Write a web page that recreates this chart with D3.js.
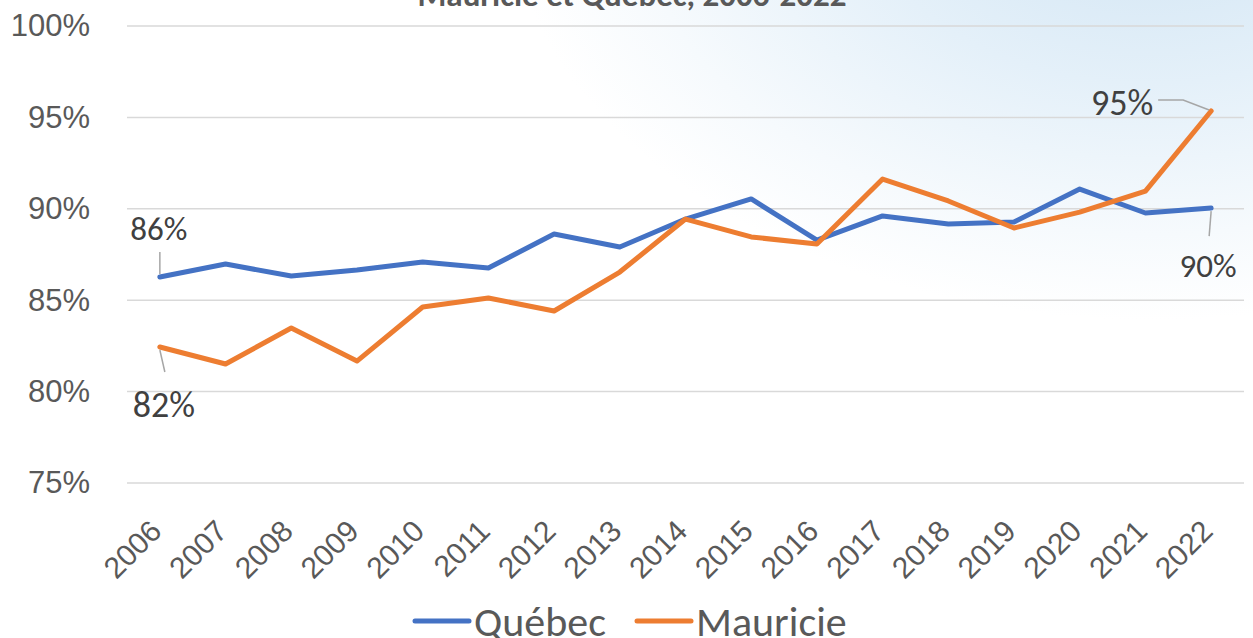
<!DOCTYPE html>
<html>
<head>
<meta charset="utf-8">
<style>
    body { margin: 0; background: #fff; }
    svg { display: block; font-family: Carlito, Calibri, Lato, sans-serif; }
    .grid line { stroke: #d9d9d9; stroke-width: 1.5px; }
    .axis text { fill: #595959; }
    .serie { fill: none; stroke-width: 5px; stroke-linejoin: round; stroke-linecap: round; }
    .leader { fill: none; stroke: #a6a6a6; stroke-width: 1.5px; }
    .lbl { fill: #404040; }
</style>
</head>
<body>
<svg></svg>
<script src="https://d3js.org/d3.v7.min.js"></script>
<script>
    var vWidth = 1253;
    var vHeight = 638;

    var annees = ['2006', '2007', '2008', '2009', '2010', '2011', '2012', '2013', '2014',
                  '2015', '2016', '2017', '2018', '2019', '2020', '2021', '2022'];
    var quebec = [0.8627, 0.8698, 0.8632, 0.8665, 0.8709, 0.8676, 0.8862, 0.8791, 0.8944,
                  0.9054, 0.8829, 0.8961, 0.8917, 0.8928, 0.9108, 0.8977, 0.9004];
    var mauricie = [0.8244, 0.8151, 0.8348, 0.8167, 0.8463, 0.8512, 0.8441, 0.8654, 0.8944,
                    0.8846, 0.8807, 0.9163, 0.9043, 0.8895, 0.8982, 0.9097, 0.9535];
    var yTicks = [0.75, 0.80, 0.85, 0.90, 0.95, 1.00];
    var titre = 'Mauricie et Québec, 2006-2022';

    var series = [
        {nom: 'Québec', valeurs: quebec, couleur: '#4472C4'},
        {nom: 'Mauricie', valeurs: mauricie, couleur: '#ED7D31'}
    ];

    var svg = d3.select('svg').attr('width', vWidth).attr('height', vHeight);

    // fond avec léger dégradé bleu en haut à droite
    var defs = svg.append('defs');
    var grad = defs.append('radialGradient').attr('id', 'fond')
        .attr('gradientUnits', 'userSpaceOnUse')
        .attr('cx', 1150).attr('cy', -110).attr('r', 430)
        .attr('gradientTransform', 'translate(1150,-110) scale(1.5,1) translate(-1150,110)');
    grad.append('stop').attr('offset', 0).attr('stop-color', '#d0e4f3');
    grad.append('stop').attr('offset', 0.45).attr('stop-color', '#e4f0f9');
    grad.append('stop').attr('offset', 0.8).attr('stop-color', '#f6fafd');
    grad.append('stop').attr('offset', 1).attr('stop-color', '#ffffff');
    svg.append('rect').attr('width', vWidth).attr('height', vHeight).attr('fill', 'url(#fond)');

    var x = d3.scalePoint().domain(annees).range([127, 1244]).padding(0.5);
    var y = d3.scaleLinear().domain([0.75, 1.0]).range([483, 26]);

    // titre (coupé en haut)
    svg.append('text').attr('x', 632).attr('y', 6)
        .attr('text-anchor', 'middle').attr('font-weight', 'bold')
        .attr('font-size', 33).attr('fill', '#595959').text(titre);

    // grille
    svg.append('g').attr('class', 'grid')
        .selectAll('line').data(yTicks).enter().append('line')
        .attr('x1', 127).attr('x2', 1244)
        .attr('y1', function (d) { return y(d); })
        .attr('y2', function (d) { return y(d); });

    // axe Y
    var axeY = svg.append('g').attr('class', 'axis')
        .attr('transform', 'translate(127,0)')
        .call(d3.axisLeft(y).tickValues(yTicks).tickFormat(d3.format('.0%'))
            .tickSize(0).tickPadding(37));
    axeY.select('.domain').remove();
    axeY.selectAll('text').attr('font-size', 31).attr('font-family', null);

    // axe X
    var axeX = svg.append('g').attr('class', 'axis')
        .attr('transform', 'translate(0,483)')
        .call(d3.axisBottom(x).tickSize(0));
    axeX.select('.domain').remove();
    axeX.selectAll('text')
        .attr('font-size', 30).attr('font-family', null)
        .attr('y', 0).attr('dy', 0)
        .attr('text-anchor', 'end')
        .attr('transform', 'translate(3,50) rotate(-45)');

    // courbes
    var ligne = d3.line()
        .x(function (d, i) { return x(annees[i]); })
        .y(function (d) { return y(d); });

    svg.selectAll('.serie').data(series).enter().append('path')
        .attr('class', 'serie')
        .attr('stroke', function (d) { return d.couleur; })
        .attr('d', function (d) { return ligne(d.valeurs); });

    // étiquettes de données (premier et dernier point)
    var fmt = d3.format('.0%');
    var etiquettes = [
        {v: quebec, i: 0, dx: -1, dy: -37, size: 33, anchor: 'middle', lead: [[0, -3], [0, -25]]},
        {v: mauricie, i: 0, dx: 4, dy: 70, size: 36, anchor: 'middle', lead: [[0, 3], [5, 25]]},
        {v: mauricie, i: 16, dx: -58, dy: 4, size: 36, anchor: 'end', lead: [[-2, -1], [-28, -11], [-53, -11]]},
        {v: quebec, i: 16, dx: -3, dy: 69, size: 33, anchor: 'middle', lead: [[0, 3], [-2, 28]]}
    ];
    etiquettes.forEach(function (e) {
        var px = x(annees[e.i]), py = y(e.v[e.i]);
        svg.append('path').attr('class', 'leader')
            .attr('d', d3.line()(e.lead.map(function (p) { return [px + p[0], py + p[1]]; })));
        svg.append('text').attr('class', 'lbl')
            .attr('x', px + e.dx).attr('y', py + e.dy)
            .attr('text-anchor', e.anchor).attr('font-size', e.size)
            .text(fmt(e.v[e.i]));
    });

    // légende
    var leg = svg.append('g').attr('transform', 'translate(0,621)');
    var legX = [415, 637];
    series.forEach(function (s, k) {
        leg.append('line').attr('x1', legX[k]).attr('x2', legX[k] + 54)
            .attr('stroke', s.couleur).attr('stroke-width', 5).attr('stroke-linecap', 'round');
        leg.append('text').attr('x', legX[k] + 59).attr('y', 0).attr('dy', '0.36em')
            .attr('font-size', 42).attr('fill', '#595959').text(s.nom);
    });
</script>
</body>
</html>
